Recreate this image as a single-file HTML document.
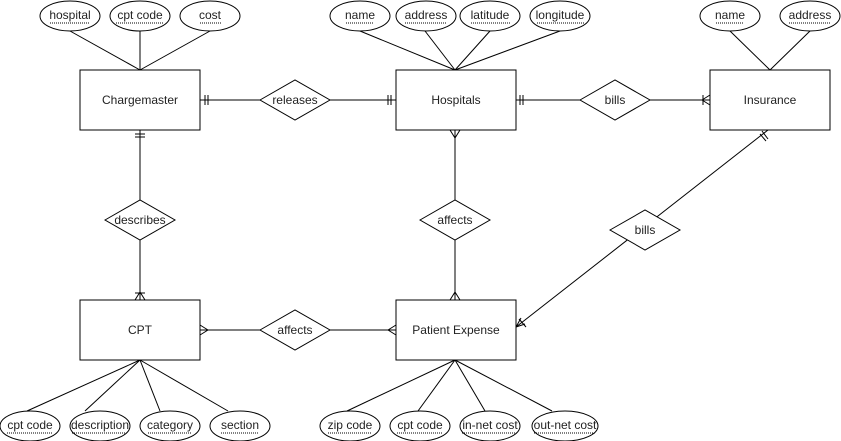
<!DOCTYPE html>
<html><head><meta charset="utf-8"><style>
html,body{margin:0;padding:0;background:#fff;}
svg{display:block;}
text{font-family:"Liberation Sans",sans-serif;font-size:12px;fill:#222;text-anchor:middle;dominant-baseline:central;}
.s{stroke:#000;stroke-width:1;fill:none;}
.f{stroke:#000;stroke-width:1;fill:#fff;}
.u{stroke:#000;stroke-width:1;stroke-dasharray:1,1;}
</style></head><body>
<svg width="841" height="441" viewBox="0 0 841 441">
<!-- attribute lines -->
<g class="s">
<line x1="70" y1="31" x2="140" y2="70"/><line x1="140" y1="31" x2="140" y2="70"/><line x1="210" y1="31" x2="140" y2="70"/>
<line x1="360" y1="31" x2="455" y2="70"/><line x1="425" y1="31" x2="455" y2="70"/><line x1="490" y1="31" x2="455" y2="70"/><line x1="560" y1="31" x2="455" y2="70"/>
<line x1="730" y1="31" x2="770" y2="70"/><line x1="810" y1="31" x2="770" y2="70"/>
<line x1="27" y1="411" x2="140" y2="360"/><line x1="85" y1="411" x2="140" y2="360"/><line x1="160" y1="411" x2="140" y2="360"/><line x1="228" y1="411" x2="140" y2="360"/>
<line x1="347" y1="411" x2="455" y2="360"/><line x1="418" y1="411" x2="455" y2="360"/><line x1="485" y1="411" x2="455" y2="360"/><line x1="552" y1="411" x2="455" y2="360"/>
<!-- relationship lines -->
<line x1="200" y1="100" x2="396" y2="100"/>
<line x1="516" y1="100" x2="710" y2="100"/>
<line x1="140" y1="130" x2="140" y2="300"/>
<line x1="455" y1="130" x2="455" y2="300"/>
<line x1="200" y1="330" x2="396" y2="330"/>
<line x1="768" y1="130" x2="516" y2="327"/>
<!-- markers -->
<line x1="205" y1="95" x2="205" y2="105"/><line x1="208" y1="95" x2="208" y2="105"/>
<line x1="388" y1="95" x2="388" y2="105"/><line x1="391" y1="95" x2="391" y2="105"/>
<line x1="520" y1="95" x2="520" y2="105"/><line x1="523" y1="95" x2="523" y2="105"/>
<line x1="703" y1="95" x2="703" y2="105"/><path d="M702,100 L710,95 M702,100 L710,105"/>
<line x1="135" y1="134" x2="145" y2="134"/><line x1="135" y1="137" x2="145" y2="137"/>
<line x1="135" y1="293" x2="145" y2="293"/><path d="M140,292 L135,300 M140,292 L145,300"/>
<path d="M455,138 L450,130 M455,138 L460,130"/>
<path d="M455,292 L450,300 M455,292 L460,300"/>
<path d="M208,330 L200,325 M208,330 L200,335"/>
<path d="M388,330 L396,325 M388,330 L396,335"/>
<line x1="762" y1="131" x2="768" y2="139"/><line x1="760" y1="134" x2="766" y2="141"/>
<line x1="519" y1="319" x2="526" y2="327"/><path d="M516,327 L521,318 M516,327 L525,324"/>
</g>
<!-- entities -->
<rect class="f" x="80" y="70" width="120" height="60"/><text x="140" y="100">Chargemaster</text>
<rect class="f" x="396" y="70" width="120" height="60"/><text x="456" y="100">Hospitals</text>
<rect class="f" x="710" y="70" width="120" height="60"/><text x="770" y="100">Insurance</text>
<rect class="f" x="80" y="300" width="120" height="60"/><text x="140" y="330">CPT</text>
<rect class="f" x="396" y="300" width="120" height="60"/><text x="456" y="330">Patient Expense</text>
<!-- relationships -->
<polygon class="f" points="260,100 295,80 330,100 295,120"/><text x="295" y="100">releases</text>
<polygon class="f" points="580,100 615,80 650,100 615,120"/><text x="615" y="100">bills</text>
<polygon class="f" points="105,220 140,200 175,220 140,240"/><text x="140" y="220">describes</text>
<polygon class="f" points="420,220 455,200 490,220 455,240"/><text x="455" y="220">affects</text>
<polygon class="f" points="260,330 295,310 330,330 295,350"/><text x="295" y="330">affects</text>
<polygon class="f" points="610,230 645,210 680,230 645,250"/><text x="645" y="230">bills</text>
<!-- attributes -->
<g>
<ellipse class="f" cx="70" cy="16" rx="30" ry="15"/><text x="70" y="15">hospital</text><line class="u" x1="50" y1="23" x2="90" y2="23"/>
<ellipse class="f" cx="140" cy="16" rx="30" ry="15"/><text x="140" y="15">cpt code</text><line class="u" x1="116" y1="23" x2="164" y2="23"/>
<ellipse class="f" cx="210" cy="16" rx="30" ry="15"/><text x="210" y="15">cost</text><line class="u" x1="200" y1="23" x2="221" y2="23"/>
<ellipse class="f" cx="360" cy="16" rx="30" ry="15"/><text x="360" y="15">name</text><line class="u" x1="346" y1="23" x2="374" y2="23"/>
<ellipse class="f" cx="426" cy="16" rx="30" ry="15"/><text x="426" y="15">address</text><line class="u" x1="405" y1="23" x2="447" y2="23"/>
<ellipse class="f" cx="490" cy="16" rx="30" ry="15"/><text x="490" y="15">latitude</text><line class="u" x1="471" y1="23" x2="510" y2="23"/>
<ellipse class="f" cx="560" cy="16" rx="30" ry="15"/><text x="560" y="15">longitude</text><line class="u" x1="537" y1="23" x2="584" y2="23"/>
<ellipse class="f" cx="730" cy="16" rx="30" ry="15"/><text x="730" y="15">name</text><line class="u" x1="716" y1="23" x2="744" y2="23"/>
<ellipse class="f" cx="810" cy="16" rx="30" ry="15"/><text x="810" y="15">address</text><line class="u" x1="789" y1="23" x2="831" y2="23"/>
<ellipse class="f" cx="30" cy="426" rx="30" ry="15"/><text x="30" y="425">cpt code</text><line class="u" x1="7" y1="433" x2="53" y2="433"/>
<ellipse class="f" cx="100" cy="426" rx="30" ry="15"/><text x="100" y="425">description</text><line class="u" x1="72" y1="433" x2="128" y2="433"/>
<ellipse class="f" cx="170" cy="426" rx="30" ry="15"/><text x="170" y="425">category</text><line class="u" x1="148" y1="433" x2="192" y2="433"/>
<ellipse class="f" cx="240" cy="426" rx="30" ry="15"/><text x="240" y="425">section</text><line class="u" x1="221" y1="433" x2="259" y2="433"/>
<ellipse class="f" cx="350" cy="426" rx="30" ry="15"/><text x="350" y="425">zip code</text><line class="u" x1="328" y1="433" x2="372" y2="433"/>
<ellipse class="f" cx="420" cy="426" rx="30" ry="15"/><text x="420" y="425">cpt code</text><line class="u" x1="397" y1="433" x2="443" y2="433"/>
<ellipse class="f" cx="490" cy="426" rx="30" ry="15"/><text x="490" y="425">in-net cost</text><line class="u" x1="462" y1="433" x2="518" y2="433"/>
<ellipse class="f" cx="565" cy="426" rx="33" ry="15"/><text x="565" y="425">out-net cost</text><line class="u" x1="534" y1="433" x2="596" y2="433"/>
</g>
</svg>
</body></html>
